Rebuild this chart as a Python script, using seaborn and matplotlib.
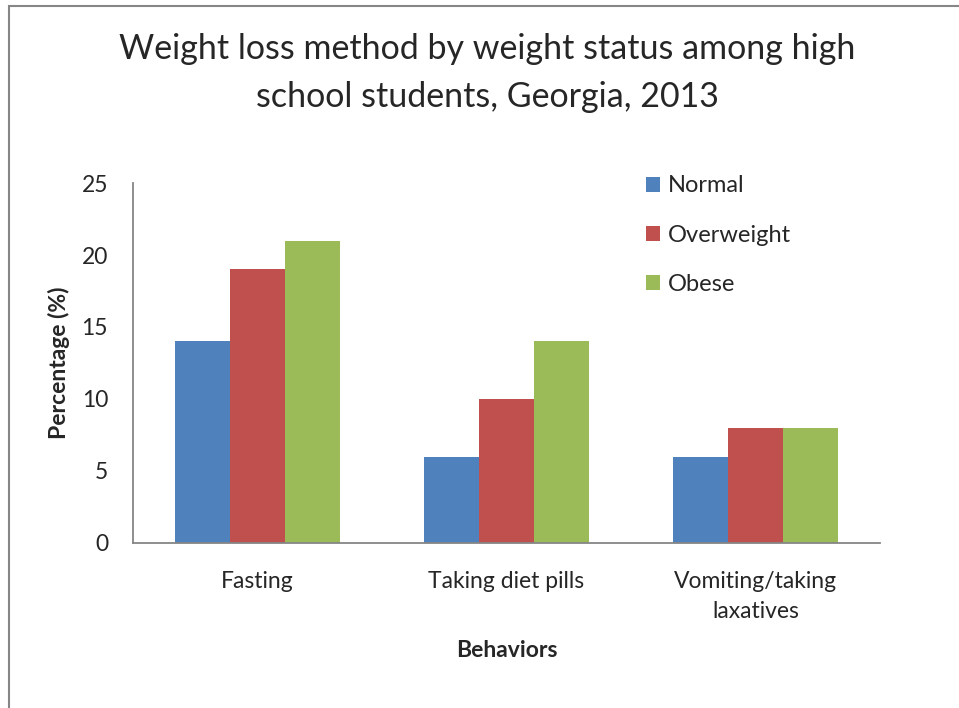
import pandas as pd
import seaborn as sns
import matplotlib.pyplot as plt
from matplotlib.patches import Rectangle

# data
behaviors = ["Fasting", "Taking diet pills", "Vomiting/taking\nlaxatives"]
groups = ["Normal", "Overweight", "Obese"]
normal = [14, 6, 6]
overweight = [19, 10, 8]
obese = [21, 14, 8]
colors = ["#4f81bd", "#c0504d", "#9bbb59"]

df = pd.DataFrame({"Behaviors": behaviors * 3,
                   "status": [g for g in groups for _ in behaviors],
                   "value": normal + overweight + obese})

sns.set_style("white")
plt.rcParams["font.family"] = ["Lato", "DejaVu Sans"]

fig = plt.figure(figsize=(9.59, 7.08), dpi=100)
ax = fig.add_axes([0.1387, 0.2331, 0.7789, 0.5084])

sns.barplot(data=df, x="Behaviors", y="value", hue="status", palette=colors,
            width=0.663, saturation=1, ax=ax, edgecolor="none")

ax.set_ylim(0, 25)
ax.set_yticks([0, 5, 10, 15, 20, 25])
ax.set_xlim(-0.5, 2.5)
for s in ["top", "right"]:
    ax.spines[s].set_visible(False)
for s in ["left", "bottom"]:
    ax.spines[s].set_color("#868686")
    ax.spines[s].set_linewidth(1.3)
ax.tick_params(axis="y", length=8, width=1.3, color="#868686", labelsize=16.5, pad=10)
ax.tick_params(axis="x", length=0, labelsize=16.5, pad=20)
for t in ax.get_xticklabels():
    t.set_linespacing(1.55)
ax.set_ylabel("Percentage (%)", fontsize=16.5, fontweight="bold", labelpad=8)
ax.set_xlabel("Behaviors", fontsize=16.5, fontweight="bold", labelpad=13)

leg = ax.legend(loc="upper left", bbox_to_anchor=(0.658, 1.08), frameon=False,
                fontsize=17, handlelength=0.6, handleheight=0.6, handletextpad=0.35,
                labelspacing=1.2)

fig.text(0.508, 0.897, "Weight loss method by weight status among high\nschool students, Georgia, 2013",
         ha="center", va="center", fontsize=24.5, linespacing=1.6)

# outer chart frame
fig.patches.append(Rectangle((9 / 959, -0.05), 1.1, 1.0 - 5.5 / 708 + 0.05,
                             transform=fig.transFigure, fill=False,
                             edgecolor="#868686", linewidth=1.5))

fig.savefig("out.png", dpi=100)
